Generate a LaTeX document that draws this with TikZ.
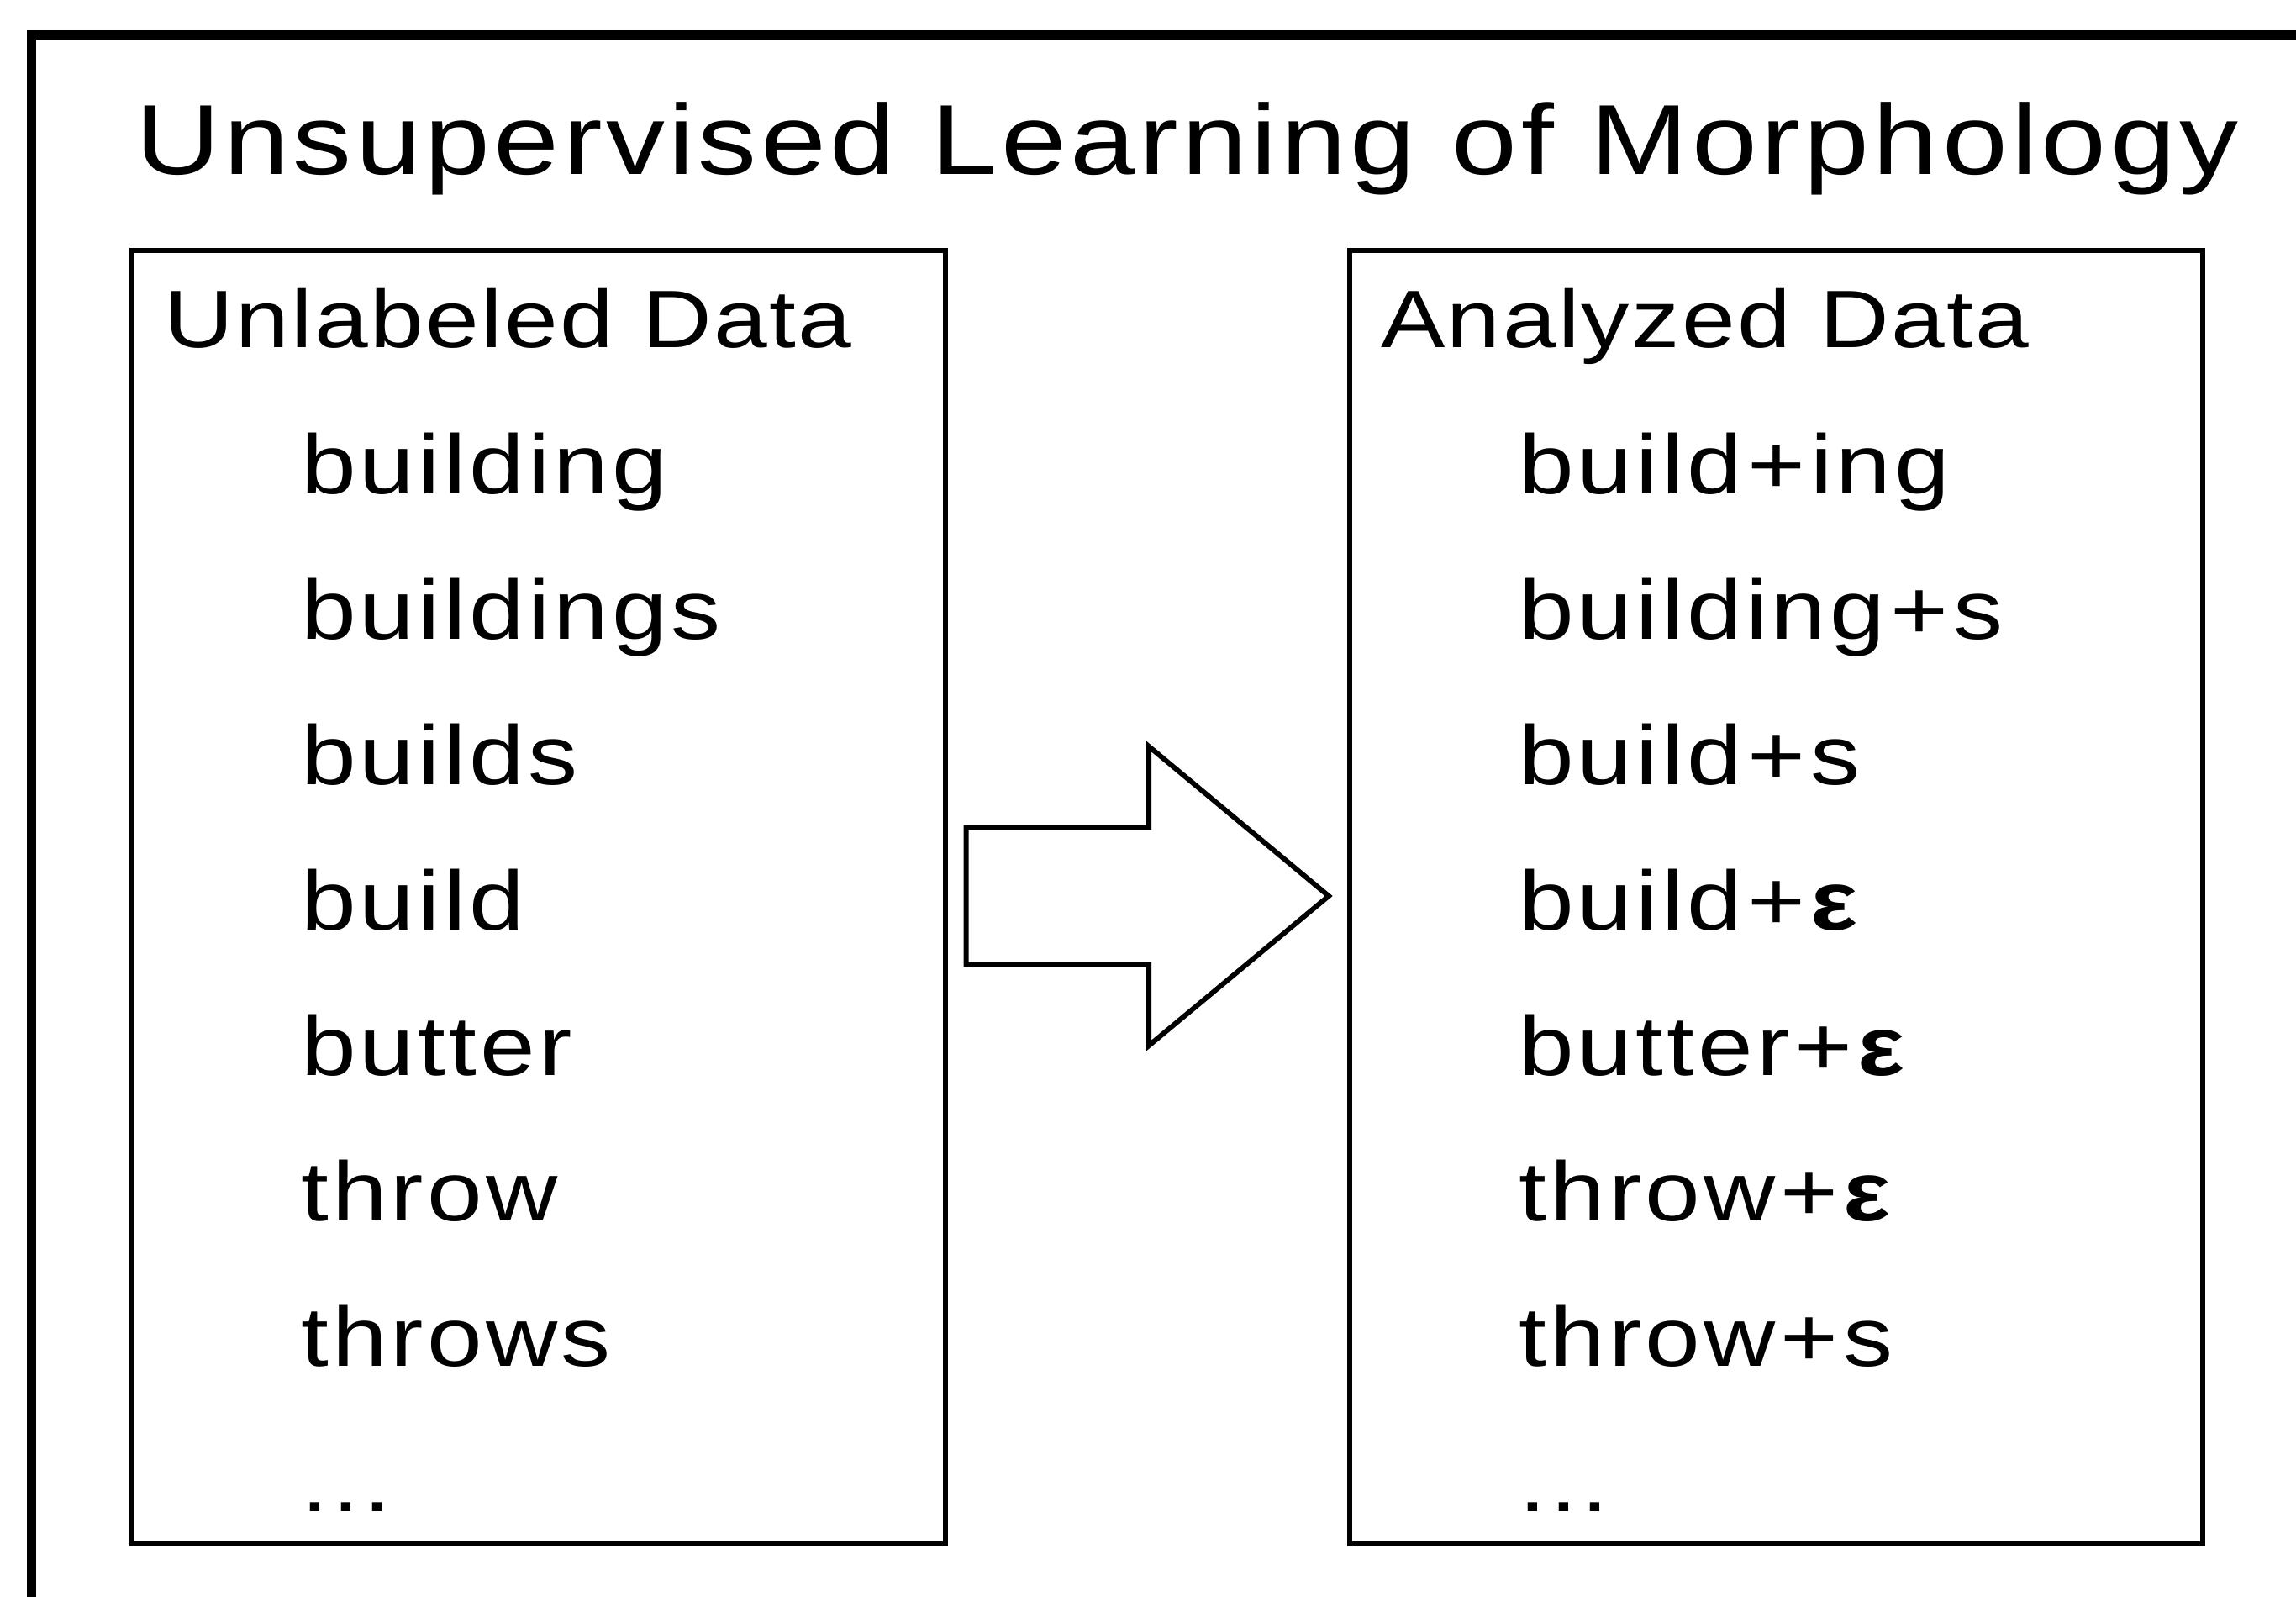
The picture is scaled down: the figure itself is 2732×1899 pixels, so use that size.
\documentclass[tikz,border=0pt]{standalone}
\usepackage{fontspec}
\newfontfamily\titlefont[FakeStretch=1.18,LetterSpace=3.8]{Liberation Sans}
\newfontfamily\headfont[FakeStretch=1.18,LetterSpace=2.5]{Liberation Sans}
\newfontfamily\itemfont[FakeStretch=1.18,LetterSpace=4.2]{Liberation Sans}
\newcommand\epsbold{{\bfseries ε}}
\newcommand\plus{\kern6pt+\kern6pt}
\newcommand\moredots{...}
\tikzset{
  frame/.style={draw=black, line width=11pt},
  listbox/.style={draw=black, line width=6pt},
  blockarrow/.style={draw=black, line width=6pt, fill=white, line join=miter},
  titletext/.style={anchor=base west, inner sep=0pt, font=\titlefont\fontsize{118.5}{120}\selectfont},
  headtext/.style={anchor=base west, inner sep=0pt, font=\headfont\fontsize{97}{100}\selectfont},
  wordtext/.style={anchor=base west, inner sep=0pt, font=\itemfont\fontsize{100}{100}\selectfont},
}
\begin{document}
\begin{tikzpicture}[x=1pt,y=-1pt]
  \useasboundingbox (0,0) rectangle (2732,1899);
  \clip (0,0) rectangle (2732,1899);
  \fill[white] (0,0) rectangle (2732,1899);

  % outer frame, running off the right and bottom edges
  \draw[frame] (37.5,41.7) rectangle (2770,1940);

  % title
  \node[titletext] (title) at (161,207) {Unsupervised Learning of Morphology};

  % the two lists
  \draw[listbox] (157,298) rectangle (1124.5,1836.3);
  \draw[listbox] (1606,298) rectangle (2621.3,1836.3);

  \node[headtext] (lhead) at (195.5,413) {Unlabeled Data};
  \node[headtext] (rhead) at (1643,413) {Analyzed Data};

  \foreach \w [count=\i from 0] in {building,buildings,builds,build,butter,throw,throws,\moredots}
    \node[wordtext] (l\i) at (358,587+173.1*\i) {\w};

  \foreach \w [count=\i from 0] in {build\plus ing,building\plus s,build\plus s,build\plus\epsbold,butter\plus\epsbold,throw\plus\epsbold,throw\plus s,\moredots}
    \node[wordtext] (r\i) at (1807,587+173.1*\i) {\w};

  % block arrow between the lists
  \coordinate (sTL) at (1149.6,984.5);
  \coordinate (sTR) at (1367,984.5);
  \coordinate (hT)  at (1367,888);
  \coordinate (tip) at (1581,1066);
  \coordinate (hB)  at (1367,1244);
  \coordinate (sBR) at (1367,1147.5);
  \coordinate (sBL) at (1149.6,1147.5);
  \draw[blockarrow] (sTL) -- (sTR) -- (hT) -- (tip) -- (hB) -- (sBR) -- (sBL) -- cycle;
\end{tikzpicture}
\end{document}
